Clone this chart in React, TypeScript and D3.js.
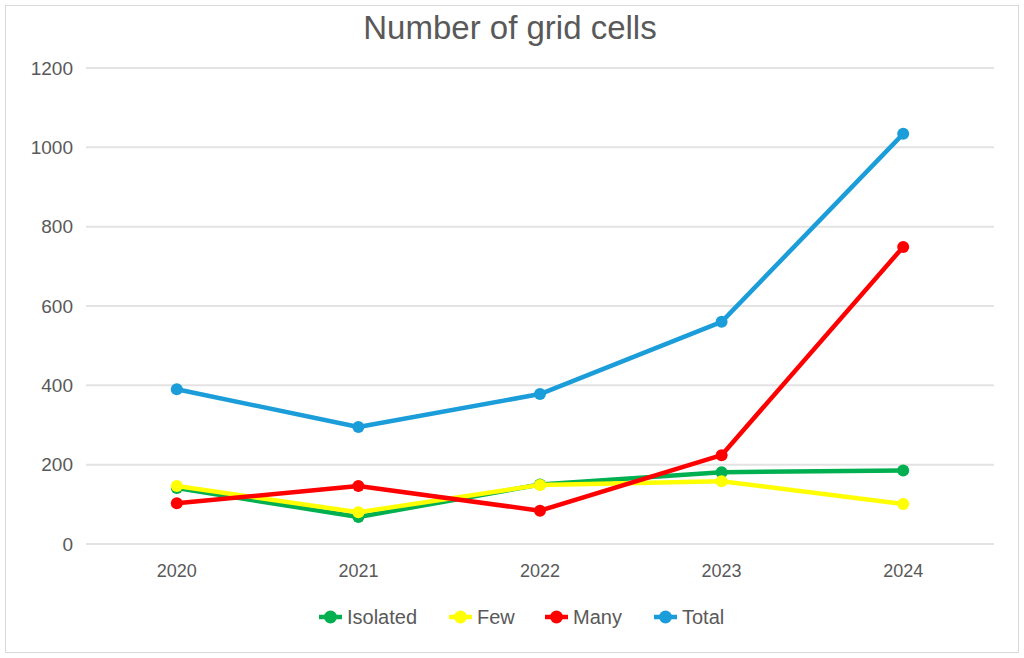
import React, { useEffect, useRef } from 'react';
import * as d3 from 'd3';

const years = ['2020', '2021', '2022', '2023', '2024'];
const isolated = [141, 68, 150, 181, 185];
const few = [146, 80, 149, 158, 101];
const many = [103, 146, 84, 224, 749];
const total = [390, 295, 378, 560, 1034];
const yTicks = [0, 200, 400, 600, 800, 1000, 1200];

const seriesList = [
  { name: 'Isolated', values: isolated, color: '#00B050' },
  { name: 'Few', values: few, color: '#FFFF00' },
  { name: 'Many', values: many, color: '#FF0000' },
  { name: 'Total', values: total, color: '#1B9DD9' },
];

const width = 1024;
const height = 658;
const margin = { top: 68, right: 30, bottom: 114, left: 86 };

const App: React.FC = () => {
  const svgRef = useRef<SVGSVGElement>(null);

  useEffect(() => {
    if (!svgRef.current) return;
    const svg = d3.select(svgRef.current);
    svg.selectAll('*').remove();
    svg.attr('font-family', '"Liberation Sans", Arial, sans-serif');

    // outer frame
    svg.append('rect')
      .attr('x', 5.5).attr('y', 5.5)
      .attr('width', width - 11).attr('height', height - 11)
      .attr('fill', '#fff').attr('stroke', '#D9D9D9');

    const x = d3.scaleBand()
      .domain(years)
      .range([margin.left, width - margin.right]);

    const y = d3.scaleLinear()
      .domain([0, 1200])
      .range([height - margin.bottom, margin.top]);

    // gridlines
    svg.append('g')
      .selectAll('line')
      .data(yTicks)
      .join('line')
        .attr('x1', margin.left).attr('x2', width - margin.right)
        .attr('y1', d => y(d)).attr('y2', d => y(d))
        .attr('stroke', '#E3E3E3').attr('stroke-width', 2);

    // y labels
    svg.append('g')
      .selectAll('text')
      .data(yTicks)
      .join('text')
        .attr('x', 73).attr('y', d => y(d))
        .attr('dy', '0.35em')
        .attr('text-anchor', 'end')
        .attr('font-size', 19)
        .attr('fill', '#595959')
        .text(d => String(d));

    // x labels
    svg.append('g')
      .selectAll('text')
      .data(years)
      .join('text')
        .attr('x', d => (x(d) ?? 0) + x.bandwidth() / 2)
        .attr('y', height - margin.bottom + 27)
        .attr('dy', '0.35em')
        .attr('text-anchor', 'middle')
        .attr('font-size', 18)
        .attr('fill', '#595959')
        .text(d => d);

    const line = d3.line<number>()
      .x((_, i) => (x(years[i]) ?? 0) + x.bandwidth() / 2)
      .y(d => y(d));

    seriesList.forEach(s => {
      const g = svg.append('g');
      g.append('path')
        .datum(s.values)
        .attr('d', line)
        .attr('fill', 'none')
        .attr('stroke', s.color)
        .attr('stroke-width', 4.5)
        .attr('stroke-linejoin', 'round');
      g.selectAll('circle')
        .data(s.values)
        .join('circle')
          .attr('cx', (_, i) => (x(years[i]) ?? 0) + x.bandwidth() / 2)
          .attr('cy', d => y(d))
          .attr('r', 6)
          .attr('fill', s.color);
    });

    // legend
    const legendX = [319, 449, 545, 654];
    const legend = svg.append('g')
      .selectAll('g')
      .data(seriesList)
      .join('g')
        .attr('transform', (_, i) => `translate(${legendX[i]},617)`);
    legend.append('line')
      .attr('x1', 0).attr('x2', 23)
      .attr('stroke', d => d.color).attr('stroke-width', 4.5);
    legend.append('circle')
      .attr('cx', 11.5).attr('r', 6.5)
      .attr('fill', d => d.color);
    legend.append('text')
      .attr('x', 28).attr('dy', '0.35em')
      .attr('font-size', 20)
      .attr('fill', '#595959')
      .text(d => d.name);

    // title
    svg.append('text')
      .attr('x', 510).attr('y', 39)
      .attr('text-anchor', 'middle')
      .attr('font-size', 33)
      .attr('fill', '#595959')
      .text('Number of grid cells');
  }, []);

  return (
    <svg
      ref={svgRef}
      width={width}
      height={height}
      style={{ position: 'absolute', left: 0, top: 0 }}
    />
  );
};

export default App;
